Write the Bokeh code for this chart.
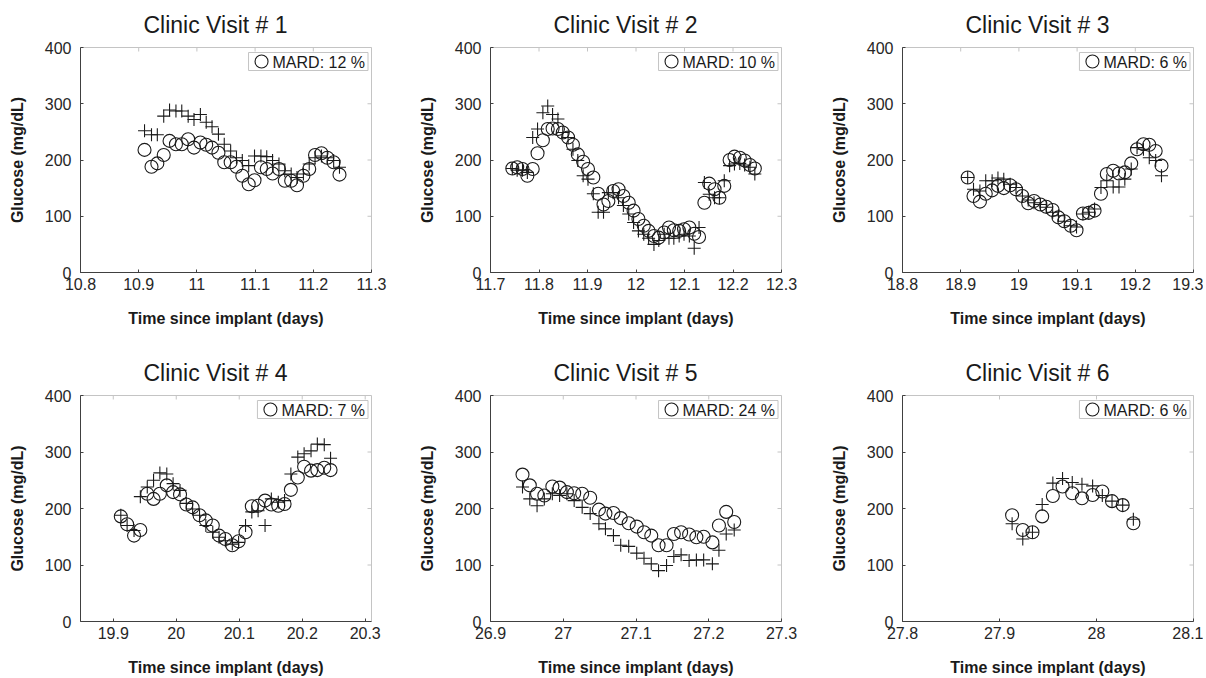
from bokeh.plotting import figure
from bokeh.models import Range1d, FixedTicker, PrintfTickFormatter, Label
from bokeh.layouts import row, column
from bokeh.embed import file_html
from bokeh.resources import INLINE

FONT = "Liberation Sans"

# ---------------- data ----------------
titles = ["Clinic Visit # 1", "Clinic Visit # 2", "Clinic Visit # 3",
          "Clinic Visit # 4", "Clinic Visit # 5", "Clinic Visit # 6"]
mard = [12, 10, 6, 7, 24, 6]

y_ticks = [0, 100, 200, 300, 400]

x_range_1 = (10.8, 11.3)
x_range_2 = (11.7, 12.3)
x_range_3 = (18.8, 19.3)
x_range_4 = (19.848, 20.31)
x_range_5 = (26.9, 27.3)
x_range_6 = (27.8, 28.1)

x_ticks_1 = [10.8, 10.9, 11.0, 11.1, 11.2, 11.3]
x_ticks_2 = [11.7, 11.8, 11.9, 12.0, 12.1, 12.2, 12.3]
x_ticks_3 = [18.8, 18.9, 19.0, 19.1, 19.2, 19.3]
x_ticks_4 = [19.9, 20.0, 20.1, 20.2, 20.3]
x_ticks_5 = [26.9, 27.0, 27.1, 27.2, 27.3]
x_ticks_6 = [27.8, 27.9, 28.0, 28.1]

# Visit 1
time_1 = [10.910, 10.922, 10.932, 10.943, 10.953, 10.964, 10.974, 10.985, 10.995, 11.006,
          11.016, 11.026, 11.037, 11.047, 11.058, 11.068, 11.078, 11.089, 11.099, 11.110,
          11.120, 11.130, 11.141, 11.151, 11.162, 11.172, 11.183, 11.193, 11.203, 11.214,
          11.224, 11.235, 11.245]
sensor_1 = [218, 188, 194, 209, 234, 228, 228, 237, 222, 231,
            227, 222, 213, 196, 196, 188, 172, 157, 164, 187,
            184, 176, 184, 163, 163, 155, 172, 184, 209, 212,
            204, 196, 174]
ref_1 = [252, 245, 245, 278, 289, 287, 287, 278, 272, 281,
         267, 259, 246, 228, 216, 204, 199, 190, 207, 207,
         206, 199, 193, 181, 175, 169, 175, 193, 204, 207,
         204, 199, 187]

# Visit 2
time_2 = [11.745, 11.755, 11.766, 11.776, 11.787, 11.797, 11.808, 11.818, 11.828, 11.839,
          11.849, 11.860, 11.870, 11.880, 11.891, 11.901, 11.912, 11.922, 11.933, 11.943,
          11.953, 11.964, 11.974, 11.985, 11.995, 12.005, 12.016, 12.026, 12.037, 12.047,
          12.058, 12.068, 12.078, 12.089, 12.099, 12.110, 12.120, 12.130, 12.141, 12.151,
          12.162, 12.172, 12.182, 12.193, 12.203, 12.214, 12.224, 12.235, 12.245]
sensor_2 = [185, 187, 184, 172, 184, 212, 235, 255, 256, 255,
            249, 240, 227, 210, 197, 184, 169, 140, 121, 127,
            145, 148, 136, 124, 110, 95, 83, 74, 65, 62,
            71, 80, 75, 74, 77, 80, 69, 63, 124, 158,
            148, 133, 154, 200, 206, 204, 199, 191, 185]
ref_2 = [185, 182, 182, 178, 240, 255, 284, 296, 281, 273,
         249, 240, 219, 199, 172, 166, 140, 107, 107, 142,
         142, 133, 119, 104, 89, 74, 68, 61, 50, 57,
         68, 61, 61, 65, 68, 65, 43, 80, 160, 139,
         133, 133, 163, 190, 193, 194, 191, 187, 175]

# Visit 3
time_3 = [18.912, 18.922, 18.933, 18.943, 18.954, 18.964, 18.974, 18.985, 18.995, 19.006,
          19.016, 19.026, 19.037, 19.047, 19.058, 19.068, 19.078, 19.089, 19.099, 19.110,
          19.120, 19.130, 19.141, 19.151, 19.162, 19.172, 19.182, 19.193, 19.203, 19.214,
          19.224, 19.235, 19.245]
sensor_3 = [169, 136, 126, 140, 146, 154, 150, 155, 148, 136,
            123, 127, 121, 117, 111, 98, 91, 83, 75, 105,
            106, 110, 140, 175, 181, 176, 178, 194, 219, 228,
            227, 216, 190]
ref_3 = [169, 148, 145, 163, 163, 168, 166, 157, 151, 136,
         129, 124, 121, 116, 107, 101, 91, 83, 81, 104,
         107, 113, 151, 163, 152, 152, 166, 184, 222, 219,
         204, 199, 172]

# Visit 4
time_4 = [19.912, 19.922, 19.933, 19.943, 19.954, 19.964, 19.974, 19.985, 19.995, 20.006,
          20.016, 20.026, 20.037, 20.047, 20.058, 20.068, 20.078, 20.089, 20.099, 20.110,
          20.120, 20.130, 20.141, 20.151, 20.162, 20.172, 20.182, 20.193, 20.203, 20.214,
          20.224, 20.235, 20.245]
sensor_4 = [186, 172, 152, 162, 226, 217, 226, 241, 229, 225,
            207, 202, 188, 179, 170, 152, 146, 135, 142, 158,
            204, 205, 214, 207, 205, 208, 233, 255, 274, 267,
            268, 272, 268]
ref_4 = [188, 170, 161, 221, 238, 250, 263, 261, 244, 232,
         209, 199, 188, 170, 158, 149, 143, 137, 140, 170,
         194, 196, 170, 217, 211, 214, 261, 291, 297, 302,
         314, 313, 289]

# Visit 5
time_5 = [26.944, 26.954, 26.964, 26.974, 26.985, 26.995, 27.005, 27.015, 27.026, 27.037,
          27.049, 27.058, 27.069, 27.079, 27.090, 27.101, 27.111, 27.121, 27.131, 27.142,
          27.152, 27.162, 27.173, 27.183, 27.193, 27.205, 27.214, 27.224, 27.235]
sensor_5 = [260, 241, 226, 223, 239, 237, 229, 227, 226, 219,
            198, 191, 192, 183, 174, 168, 158, 152, 135, 135,
            155, 158, 154, 149, 150, 140, 170, 194, 176]
ref_5 = [238, 217, 205, 217, 226, 223, 226, 214, 202, 191,
         173, 164, 152, 135, 133, 121, 112, 102, 90, 99,
         115, 118, 108, 109, 109, 102, 126, 155, 162]

# Visit 6
time_6 = [27.913, 27.924, 27.934, 27.944, 27.955, 27.965, 27.975, 27.985, 27.996, 28.006,
          28.016, 28.027, 28.038]
sensor_6 = [188, 162, 158, 186, 222, 239, 227, 218, 224, 230, 213, 206, 174]
ref_6 = [173, 146, 158, 207, 245, 253, 246, 243, 240, 223, 213, 206, 181]

# ---------------- styling helpers ----------------
FRAME_W = 291
AXIS_COLOR = "#404040"
LIGHT = "#c4c4c4"
MARK = "#1a1a1a"
LEG_SIZE = 16

# Arial / Liberation Sans advance widths (em)
ARIAL_W = {"M": 0.833, "A": 0.667, "R": 0.722, "D": 0.722, ":": 0.278,
           " ": 0.278, "%": 0.889}


def text_width(s, size):
    return sum(ARIAL_W.get(c, 0.556) for c in s) * size


def make_panel(title, t, sensor, ref, xr, xticks, mard_val, frame_h,
               left_border, right_border, top_border, bottom_border):
    p = figure(frame_width=FRAME_W, frame_height=frame_h,
               x_range=Range1d(*xr), y_range=Range1d(0, 400),
               output_backend="svg", toolbar_location=None,
               min_border_left=left_border, min_border_right=right_border,
               min_border_top=top_border, min_border_bottom=bottom_border,
               background_fill_color="white", border_fill_color="white")
    p.xgrid.visible = False
    p.ygrid.visible = False
    p.outline_line_color = LIGHT

    p.title.text = title
    p.title.text_font = FONT
    p.title.text_font_size = "23px"
    p.title.text_font_style = "normal"
    p.title.text_color = "#1a1a1a"
    p.title.align = "left"
    p.title.offset = 63
    p.title.standoff = 19

    xa = p.xaxis[0]
    ya = p.yaxis[0]
    xa.ticker = FixedTicker(ticks=xticks)
    xa.formatter = PrintfTickFormatter(format="%g")
    ya.ticker = FixedTicker(ticks=y_ticks)
    ya.formatter = PrintfTickFormatter(format="%g")
    xa.axis_label = "Time since implant (days)"
    ya.axis_label = "Glucose (mg/dL)"
    for ax in (xa, ya):
        ax.axis_line_color = AXIS_COLOR
        ax.major_tick_line_color = AXIS_COLOR
        ax.major_tick_in = 3
        ax.major_tick_out = 0
        ax.minor_tick_line_color = None
        ax.major_label_text_font = FONT
        ax.major_label_text_font_size = "16px"
        ax.major_label_text_color = "#262626"
        ax.axis_label_text_font = FONT
        ax.axis_label_text_font_size = "16px"
        ax.axis_label_text_font_style = "bold"
        ax.axis_label_text_color = "#1a1a1a"
    xa.major_label_standoff = 5
    xa.axis_label_standoff = 17
    ya.major_label_standoff = 9
    ya.axis_label_standoff = 16

    # pixel-mapped helper ranges (0..frame size) for box decorations
    p.extra_x_ranges = {"px": Range1d(0, FRAME_W)}
    p.extra_y_ranges = {"py": Range1d(0, frame_h)}

    # light mirror ticks on the top and right edges of the box
    top_x = [(v - xr[0]) / (xr[1] - xr[0]) * FRAME_W for v in xticks]
    p.segment(x0=top_x, y0=[frame_h] * len(top_x), x1=top_x,
              y1=[frame_h - 4] * len(top_x), line_color=LIGHT, line_width=1,
              x_range_name="px", y_range_name="py")
    right_y = [v / 400 * frame_h for v in y_ticks]
    p.segment(x0=[FRAME_W] * len(right_y), y0=right_y,
              x1=[FRAME_W - 4] * len(right_y), y1=right_y,
              line_color=LIGHT, line_width=1,
              x_range_name="px", y_range_name="py")

    # data
    p.scatter(t, sensor, marker="circle", size=13, fill_color=None,
              line_color=MARK, line_width=1.1)
    p.scatter(t, ref, marker="cross", size=13, line_color=MARK,
              line_width=1.1)

    # legend box: marker + text
    label_txt = f"MARD: {mard_val} %"
    tw = text_width(label_txt, LEG_SIZE)
    box_right = FRAME_W - 3.5
    box_top = frame_h - 5
    box_h = 18
    box_left = box_right - (24 + tw + 3)
    p.quad(left=[box_left], right=[box_right], top=[box_top],
           bottom=[box_top - box_h], fill_color="white", line_color=LIGHT,
           line_width=1, x_range_name="px", y_range_name="py")
    p.scatter([box_left + 13], [box_top - box_h / 2], marker="circle",
              size=13, fill_color=None, line_color=MARK, line_width=1.1,
              x_range_name="px", y_range_name="py")
    p.add_layout(Label(x=box_right - 3, y=box_top - box_h / 2 - 0.5,
                       x_range_name="px", y_range_name="py",
                       text=label_txt, text_align="right",
                       text_baseline="middle", text_font=FONT,
                       text_font_size=f"{LEG_SIZE}px", text_color="#1a1a1a"))
    return p


p1 = make_panel(titles[0], time_1, sensor_1, ref_1, x_range_1, x_ticks_1, mard[0], 225, 80, 44, 47, 76)
p2 = make_panel(titles[1], time_2, sensor_2, ref_2, x_range_2, x_ticks_2, mard[1], 225, 72, 46, 47, 76)
p3 = make_panel(titles[2], time_3, sensor_3, ref_3, x_range_3, x_ticks_3, mard[2], 225, 72, 10, 47, 76)
p4 = make_panel(titles[3], time_4, sensor_4, ref_4, x_range_4, x_ticks_4, mard[3], 226, 80, 44, 47, 54)
p5 = make_panel(titles[4], time_5, sensor_5, ref_5, x_range_5, x_ticks_5, mard[4], 226, 72, 46, 47, 54)
p6 = make_panel(titles[5], time_6, sensor_6, ref_6, x_range_6, x_ticks_6, mard[5], 226, 72, 10, 47, 54)

layout = column(row(p1, p2, p3), row(p4, p5, p6))

open("out.html", "w").write(file_html(layout, INLINE))
